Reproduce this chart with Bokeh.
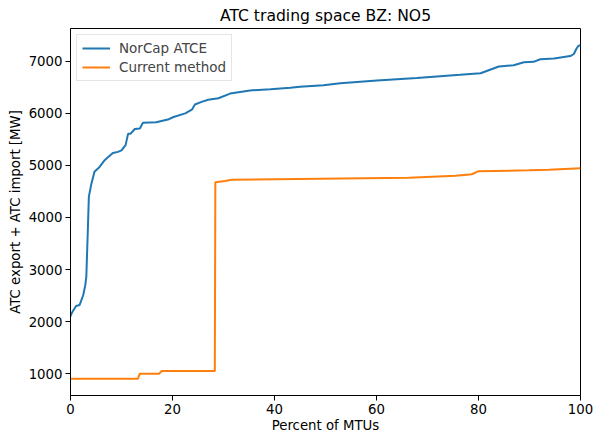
from bokeh.plotting import figure
from bokeh.models import Range1d, FixedTicker, Legend, LegendItem
from bokeh.embed import file_html
from bokeh.resources import INLINE

norcap_pct = [0, 0.3, 1.1, 1.8, 2.5, 2.9, 3.1, 3.4, 3.6, 4.1, 4.7, 5.7, 6.7, 7.4, 8.3, 9.3, 10.0,
              10.8, 11.3, 11.8, 12.6, 13.6, 14.2, 16.8, 19.1, 20.2, 22.5, 23.8, 24.4, 25.7, 27.0,
              29.0, 31.3, 32.6, 35.2, 39.2, 43.1, 45.0, 49.6, 52.9, 60.1, 67.9, 72.5, 76.4, 80.4,
              84.0, 86.9, 88.9, 90.8, 92.1, 94.8, 98.0, 98.7, 99.2, 99.6, 100]
norcap_mw = [2100, 2175, 2300, 2320, 2510, 2700, 2860, 3760, 4400, 4650, 4880, 4970, 5100, 5160,
             5240, 5260, 5290, 5390, 5610, 5610, 5700, 5710, 5820, 5830, 5880, 5930, 6000, 6070,
             6170, 6220, 6260, 6290, 6380, 6400, 6440, 6465, 6490, 6510, 6540, 6580, 6630, 6680,
             6715, 6740, 6770, 6900, 6925, 6980, 6990, 7040, 7055, 7100, 7140, 7240, 7300, 7310]

current_pct = [0, 13.2, 13.6, 17.4, 17.9, 28.3, 28.4, 30.3, 31.6, 66.3, 75.5, 78.7, 80.0, 89.9, 93.8, 100]
current_mw = [900, 900, 1000, 1000, 1050, 1050, 4675, 4700, 4725, 4765, 4800, 4830, 4890, 4905, 4915, 4945]

x_ticks = [0, 20, 40, 60, 80, 100]
y_ticks = [1000, 2000, 3000, 4000, 5000, 6000, 7000]

FONT = "DejaVu Sans"

p = figure(width=596, height=435, output_backend="svg", toolbar_location=None,
           x_range=Range1d(0, 100), y_range=Range1d(580, 7630),
           min_border_left=70, min_border_right=16, min_border_top=27, min_border_bottom=40,
           title="ATC trading space BZ: NO5")

p.title.text_font = FONT
p.title.text_font_size = "15.6px"
p.title.text_font_style = "normal"
p.title.align = "center"
p.title.text_color = "black"
p.title.standoff = 8

p.xgrid.visible = False
p.ygrid.visible = False
p.outline_line_color = "black"
p.outline_line_width = 1
p.background_fill_color = "white"
p.border_fill_color = "white"

for ax in (p.xaxis[0], p.yaxis[0]):
    ax.axis_line_color = "black"
    ax.major_tick_line_color = "black"
    ax.minor_tick_line_color = None
    ax.major_tick_out = 5
    ax.major_tick_in = 0
    ax.major_label_text_font = FONT
    ax.major_label_text_font_size = "13.3px"
    ax.major_label_text_color = "black"
    ax.axis_label_text_font = FONT
    ax.axis_label_text_font_size = "13.3px"
    ax.axis_label_text_font_style = "normal"
    ax.axis_label_text_color = "black"
    ax.major_label_standoff = 3

p.xaxis[0].ticker = FixedTicker(ticks=x_ticks)
p.yaxis[0].ticker = FixedTicker(ticks=y_ticks)
p.xaxis[0].axis_label = "Percent of MTUs"
p.yaxis[0].axis_label = "ATC export + ATC import [MW]"
p.xaxis[0].major_label_standoff = 3
p.xaxis[0].axis_label_standoff = 1
p.yaxis[0].axis_label_standoff = 3

r1 = p.line(norcap_pct, norcap_mw, line_color="#1f77b4", line_width=2)
r2 = p.line(current_pct, current_mw, line_color="#ff7f0e", line_width=2)

legend = Legend(items=[LegendItem(label="NorCap ATCE", renderers=[r1]),
                       LegendItem(label="Current method", renderers=[r2])],
                location="top_left")
legend.label_text_font = FONT
legend.label_text_font_size = "13.5px"
legend.border_line_color = "#cccccc"
legend.border_line_width = 1
legend.margin = 6
legend.padding = 5
legend.spacing = 3
legend.glyph_width = 28
legend.label_standoff = 9
legend.label_height = 16
legend.glyph_height = 16
p.add_layout(legend)

open("out.html", "w").write(file_html(p, INLINE))
